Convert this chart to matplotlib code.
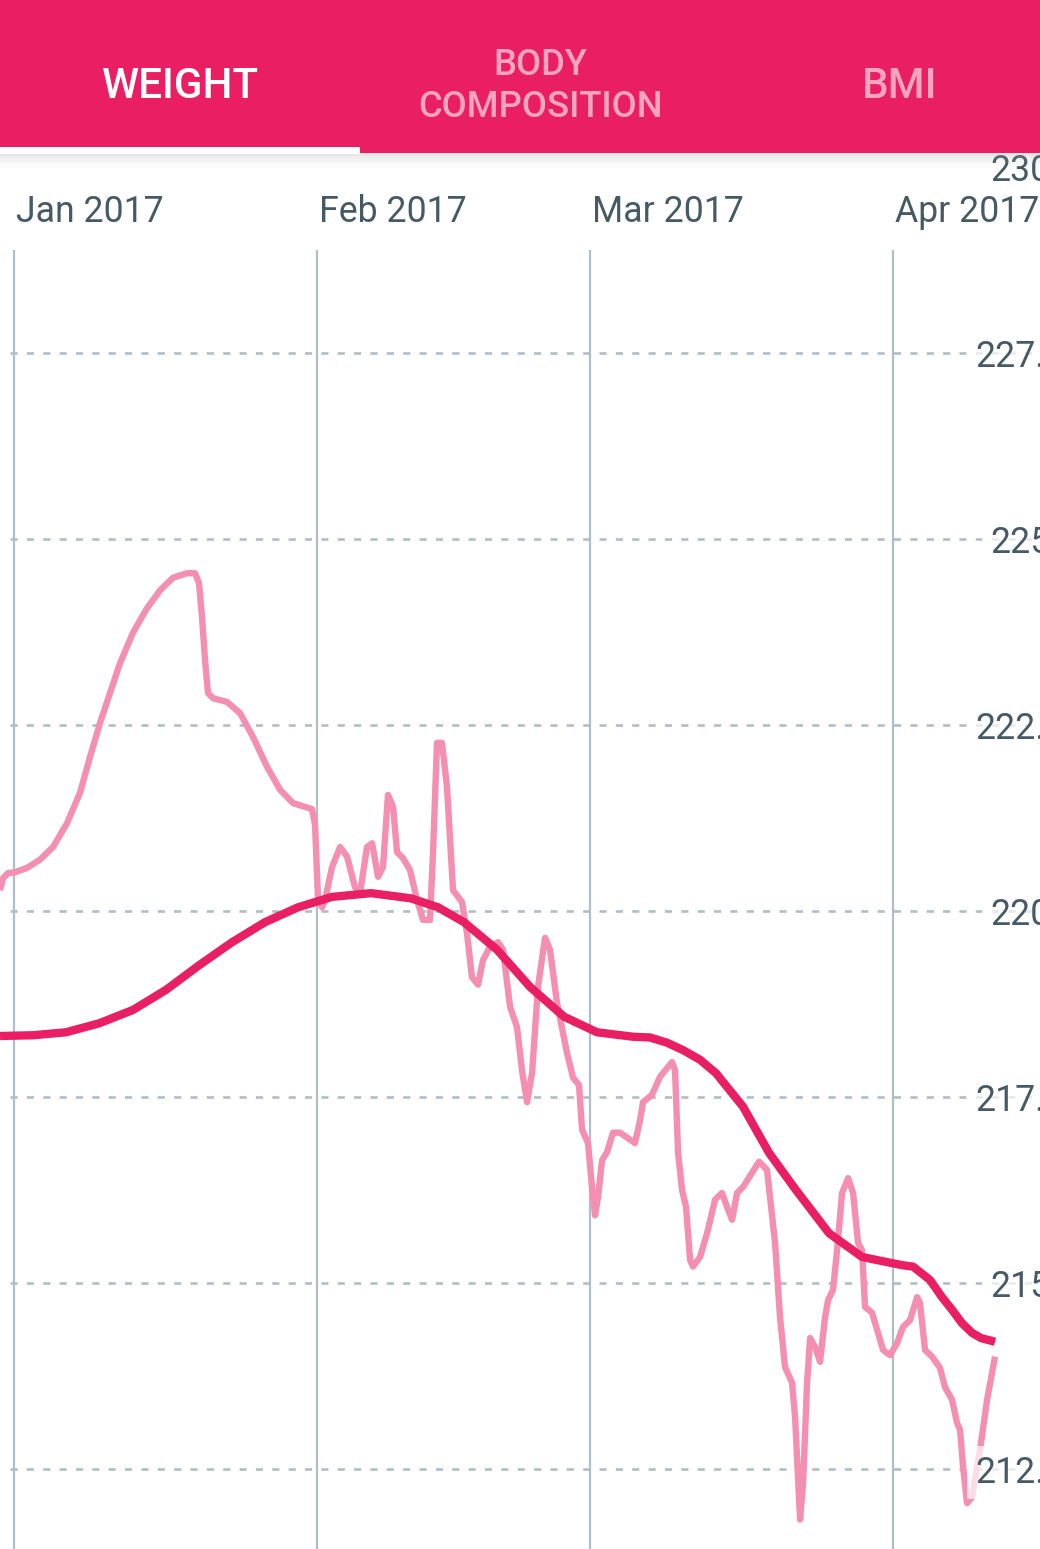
import matplotlib
matplotlib.use("Agg")
import matplotlib.pyplot as plt
from matplotlib.patches import Rectangle

# ---------------- data ----------------
tabs = ["WEIGHT", "BODY\nCOMPOSITION", "BMI"]
month_labels = ["Jan 2017", "Feb 2017", "Mar 2017", "Apr 2017"]
month_days = [0, 31, 59, 90]          # days since 1 Jan 2017
y_ticks = [212.5, 215, 217.5, 220, 222.5, 225, 227.5, 230]
y_tick_labels = ["212.5", "215", "217.5", "220", "222.5", "225", "227.5", "230"]

# daily weight (days since 1 Jan 2017, lbs)
weight_days = [-1.43, -1.13, -0.61, 0.10, 1.33, 2.66, 3.99, 5.43, 6.76, 7.78,
               8.81, 9.83, 10.85, 12.18, 13.62, 14.95, 16.28, 17.71, 18.53, 18.94,
               19.25, 19.56, 19.86, 20.38, 21.81, 23.14, 24.47, 25.90, 27.24, 28.57,
               30.51, 30.82, 31.13, 31.54, 31.85, 32.56, 33.38, 34.10, 34.91, 35.43,
               36.14, 36.66, 37.27, 37.78, 38.29, 38.81, 39.22, 39.83, 40.55, 41.26,
               41.88, 42.59, 42.90, 43.31, 43.82, 44.33, 44.95, 45.87, 46.38, 46.89,
               47.51, 48.02, 48.74, 49.56, 50.07, 50.79, 51.50, 52.01, 52.53, 53.04,
               53.65, 54.37, 54.88, 55.60, 56.62, 57.24, 57.85, 58.16, 58.77, 59.18,
               59.49, 59.80, 60.21, 60.72, 61.33, 62.05, 63.58, 64.10, 64.40, 65.32,
               66.14, 67.37, 67.68, 67.99, 68.40, 68.81, 69.22, 69.52, 70.24, 70.96,
               71.78, 72.49, 73.01, 73.52, 74.03, 74.64, 75.56, 76.28, 77.10, 77.92,
               78.43, 78.94, 79.66, 79.97, 80.48, 80.79, 81.20, 81.51, 82.02, 82.53,
               83.04, 83.35, 83.86, 84.27, 84.78, 85.40, 85.91, 86.42, 86.83, 87.13,
               87.85, 88.46, 88.98, 89.69, 90.41, 91.02, 91.74, 92.46, 92.76, 93.28,
               93.99, 94.81, 95.32, 96.04, 96.55, 96.86, 97.17, 97.58, 98.09, 98.91,
               99.63, 100.44]
weight_vals = [220.28, 220.44, 220.51, 220.52, 220.58, 220.69, 220.86, 221.18, 221.59, 222.07,
               222.53, 222.93, 223.33, 223.74, 224.07, 224.31, 224.48, 224.54, 224.54, 224.41,
               223.95, 223.37, 222.93, 222.86, 222.81, 222.66, 222.34, 221.94, 221.63, 221.45,
               221.37, 221.16, 220.15, 220.05, 220.15, 220.59, 220.86, 220.73, 220.32, 220.24,
               220.86, 220.91, 220.46, 220.59, 221.56, 221.40, 220.79, 220.71, 220.55, 220.15,
               219.88, 219.88, 220.78, 222.26, 222.26, 221.67, 220.28, 220.12, 219.70, 219.11,
               219.01, 219.34, 219.52, 219.58, 219.48, 218.71, 218.44, 217.86, 217.43, 217.82,
               218.98, 219.64, 219.48, 218.76, 218.09, 217.76, 217.66, 217.06, 216.88, 216.29,
               215.91, 216.16, 216.65, 216.76, 217.02, 217.02, 216.88, 217.19, 217.43, 217.53,
               217.77, 217.97, 217.86, 216.75, 216.25, 216.02, 215.31, 215.22, 215.35, 215.67,
               216.12, 216.21, 216.02, 215.85, 216.21, 216.29, 216.48, 216.63, 216.52, 215.54,
               214.54, 213.87, 213.66, 213.20, 211.82, 212.31, 213.66, 214.26, 214.14, 213.94,
               214.54, 214.77, 214.91, 215.44, 216.21, 216.41, 216.21, 215.54, 215.44, 214.68,
               214.60, 214.33, 214.10, 214.03, 214.19, 214.41, 214.50, 214.81, 214.73, 214.10,
               214.01, 213.86, 213.60, 213.43, 213.12, 213.03, 212.53, 212.04, 212.12, 212.76,
               213.43, 214.01]

# smoothed trend
trend_days = [-1.43, 1.95, 5.32, 8.70, 12.18, 15.56, 18.94, 22.32, 25.70, 29.08, 32.56,
              36.55, 40.65, 43.41, 46.07, 49.45, 52.83, 56.31, 59.69, 63.38, 65.12, 66.86,
              68.50, 70.24, 71.87, 74.64, 77.30, 80.06, 83.44, 86.82, 90.92, 92.05, 93.79,
              95.01, 96.04, 97.06, 98.09, 99.01, 100.44]
trend_vals = [218.32, 218.33, 218.37, 218.49, 218.67, 218.94, 219.27, 219.58, 219.85, 220.05, 220.19,
              220.24, 220.17, 220.05, 219.85, 219.48, 218.98, 218.58, 218.37, 218.31, 218.30, 218.23,
              218.13, 218.00, 217.82, 217.37, 216.75, 216.25, 215.67, 215.35, 215.24, 215.22, 215.04,
              214.81, 214.64, 214.46, 214.33, 214.26, 214.21]

# ---------------- style ----------------
PINK = "#E91E63"
LIGHT = "#F48FB1"
GRID = "#B0BEC5"
TEXT = "#455A64"
FONT = ["Roboto", "DejaVu Sans"]

W, H = 1040, 1549
fig = plt.figure(figsize=(W / 100, H / 100), dpi=100)
ax = fig.add_axes([0, 0, 1, 1])
ax.axis("off")

PX_PER_DAY = 9.767
X0 = 14.0            # pixel of Jan 1
Y220 = 911.0         # pixel of 220
PX_PER_UNIT = 74.4
ax.set_xlim(-X0 / PX_PER_DAY, (W - X0) / PX_PER_DAY)
ax.set_ylim(220 - (H - Y220) / PX_PER_UNIT, 220 + Y220 / PX_PER_UNIT)


def px2v(py):
    return 220 - (py - Y220) / PX_PER_UNIT


def px2d(px):
    return (px - X0) / PX_PER_DAY


# vertical month grid
ax.vlines(month_days, px2v(H + 5), px2v(250), color=GRID, lw=1.6, zorder=1)
# horizontal dashed grid
for yv in y_ticks:
    if yv >= 230:
        continue
    ax.plot([px2d(10), px2d(W + 10)], [yv, yv], color=GRID, lw=1.9,
            linestyle=(0, (2.7, 3.5)), zorder=1)

ax.plot(weight_days, weight_vals, color=LIGHT, lw=4.6, zorder=2,
        solid_joinstyle="round", solid_capstyle="butt")
ax.plot(trend_days, trend_vals, color=PINK, lw=6.0, zorder=3,
        solid_joinstyle="round", solid_capstyle="butt")

# y labels
for yv, lab in zip(y_ticks, y_tick_labels):
    ax.text(px2d(1020), yv - 13.5 / PX_PER_UNIT, lab, ha="center", va="baseline",
            fontsize=25.7, color=TEXT, family=FONT, zorder=5,
            bbox=dict(facecolor="white", edgecolor="none", alpha=0.7, pad=6))

# month labels
for d, lab in zip(month_days, month_labels):
    ax.text(d + 2 / PX_PER_DAY, px2v(222), lab, ha="left", va="baseline",
            fontsize=25.7, color=TEXT, family=FONT, zorder=5)

# ---------------- header ----------------
hdr = 153
fig.add_artist(Rectangle((0, 1 - hdr / H), 1, hdr / H, transform=fig.transFigure,
                         facecolor=PINK, edgecolor="none", zorder=10))
# shadow
for i in range(16):
    a = 0.28 * (1 - i / 16) ** 1.5
    fig.add_artist(Rectangle((0, 1 - (hdr + i + 1) / H), 1, 1 / H,
                             transform=fig.transFigure, facecolor="#9E9E9E",
                             edgecolor="none", alpha=a, zorder=9))
# tab indicator
fig.add_artist(Rectangle((0, 1 - (hdr + 1) / H), 360 / W, 7 / H,
                         transform=fig.transFigure, facecolor="white",
                         edgecolor="none", zorder=11))

inactive = "#F6A5C1"
fig.text(180 / W, 1 - 98 / H, tabs[0], ha="center", va="baseline", color="white",
         fontsize=30.3, fontweight="medium", family=FONT, zorder=12)
body, comp = tabs[1].split("\n")
fig.text(540 / W, 1 - 75 / H, body, ha="center", va="baseline", color=inactive,
         fontsize=26.2, fontweight="medium", family=FONT, zorder=12)
fig.text(540 / W, 1 - 117 / H, comp, ha="center", va="baseline", color=inactive,
         fontsize=26.2, fontweight="medium", family=FONT, zorder=12)
fig.text(900 / W, 1 - 98 / H, tabs[2], ha="center", va="baseline", color=inactive,
         fontsize=30.3, fontweight="medium", family=FONT, zorder=12)

fig.savefig("out.png", dpi=100)
